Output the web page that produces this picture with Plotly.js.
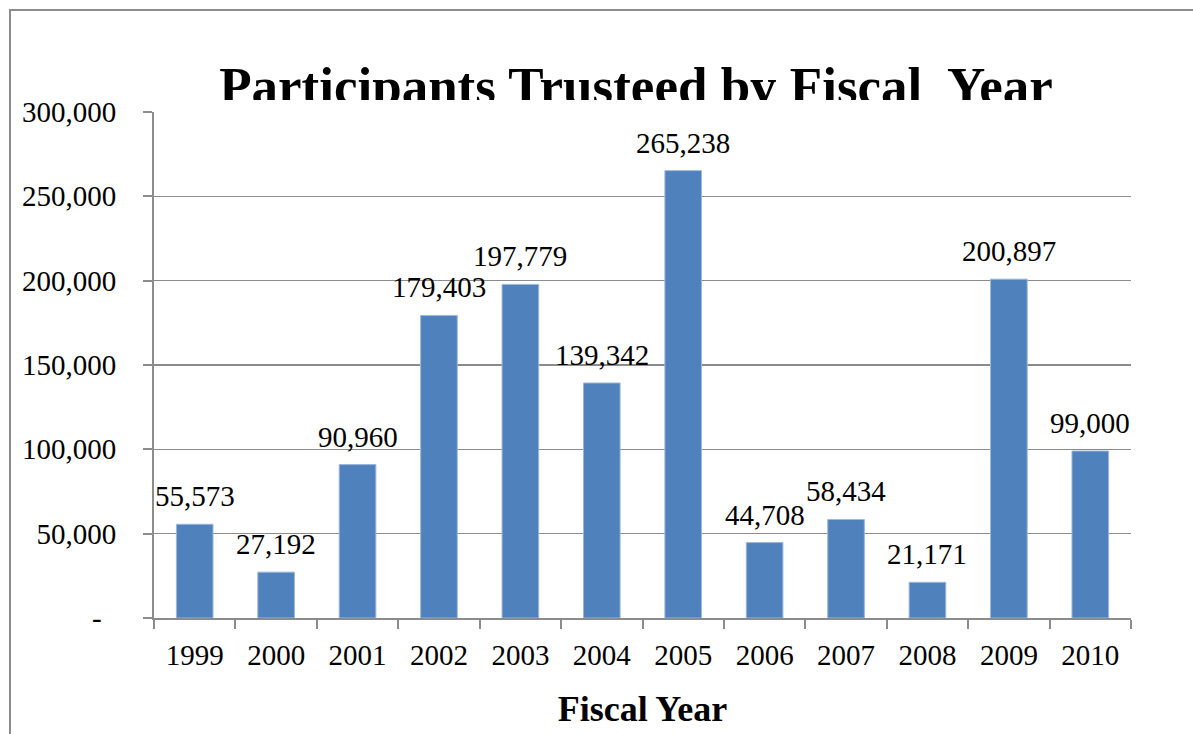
<!DOCTYPE html>
<html>
<head>
<meta charset="utf-8">
<script src="https://cdn.plot.ly/plotly-3.0.1.min.js"></script>
<style>
html,body{margin:0;padding:0;background:#fff;}
#chart{width:1193px;height:734px;}
</style>
</head>
<body>
<div id="chart"></div>
<script>
const years = ['1999','2000','2001','2002','2003','2004','2005','2006','2007','2008','2009','2010'];
const participants = [55573, 27192, 90960, 179403, 197779, 139342, 265238, 44708, 58434, 21171, 200897, 99000];
const yTickVals = [0, 50000, 100000, 150000, 200000, 250000, 300000];
const yTickText = ['-\u00A0\u00A0', '50,000', '100,000', '150,000', '200,000', '250,000', '300,000'];
const chartTitle = 'Participants Trusteed by Fiscal\u00A0 Year';
const xTitle = 'Fiscal Year';

const FONT = '"Liberation Serif", "Times New Roman", serif';
const GRID = '#8c8c8c';

const W = 1193, H = 734;
const L = 154, R = 1131, T = 112, B = 618;
const pw = R - L, ph = B - T;
const px = v => (v - L) / pw;
const py = v => (B - v) / ph;

const fmt = n => n.toLocaleString('en-US');

const trace = {
  type: 'bar',
  x: years,
  y: participants,
  marker: {color: '#4F81BD', line: {color: '#9DB7DA', width: 1}},
  hoverinfo: 'x+y'
};

const annotations = years.map((yr, i) => ({
  x: i, y: participants[i], xref: 'x', yref: 'y',
  text: fmt(participants[i]), showarrow: false,
  yanchor: 'bottom', xanchor: 'center', yshift: 10,
  font: {family: FONT, size: 29, color: '#000'}
}));

const layout = {
  width: W, height: H,
  margin: {l: L, r: W - R, t: T, b: H - B, pad: 0},
  paper_bgcolor: '#fff', plot_bgcolor: '#fff',
  bargap: 0.55,
  showlegend: false,
  title: {
    text: '<b>' + chartTitle + '</b>',
    font: {family: FONT, size: 53, color: '#000'},
    xref: 'paper', x: px(636), xanchor: 'center',
    yref: 'container', y: 1 - 104 / H, yanchor: 'bottom'
  },
  xaxis: {
    type: 'category',
    categoryorder: 'array', categoryarray: years,
    range: [-0.5, years.length - 0.5], autorange: false,
    tickson: 'boundaries', tickangle: 0,
    ticks: 'outside', ticklen: 9, tickwidth: 2, tickcolor: GRID,
    showline: true, linecolor: GRID, linewidth: 2,
    showgrid: false, zeroline: false,
    tickfont: {family: FONT, size: 29, color: '#000'},
    ticklabelstandoff: 10,
    title: {text: '<b>' + xTitle + '</b>', font: {family: FONT, size: 36, color: '#000'}, standoff: 26}
  },
  yaxis: {
    range: [0, 300000], autorange: false,
    tickvals: yTickVals, ticktext: yTickText,
    ticks: 'outside', ticklen: 9, tickwidth: 2, tickcolor: GRID,
    showline: true, linecolor: GRID, linewidth: 2,
    showgrid: true, gridcolor: GRID, gridwidth: 1.5,
    zeroline: false,
    tickfont: {family: FONT, size: 29, color: '#000'},
    ticklabelstandoff: 21
  },
  annotations: annotations,
  shapes: [{
    type: 'rect', xref: 'paper', yref: 'paper',
    x0: px(10), x1: px(1210), y0: py(760), y1: py(10),
    line: {color: '#8c8c8c', width: 2}, layer: 'below'
  }]
};

Plotly.newPlot('chart', [trace], layout, {displayModeBar: false, staticPlot: true}).then(gd => {
  const svgs = gd.querySelectorAll('svg.main-svg');
  const top = svgs[svgs.length - 1];
  const ns = 'http://www.w3.org/2000/svg';
  let defs = top.querySelector('defs');
  if (!defs) { defs = document.createElementNS(ns, 'defs'); top.insertBefore(defs, top.firstChild); }
  const cp = document.createElementNS(ns, 'clipPath');
  cp.setAttribute('id', 'titleclip');
  const r = document.createElementNS(ns, 'rect');
  r.setAttribute('x', 0); r.setAttribute('y', 0);
  r.setAttribute('width', W); r.setAttribute('height', 100);
  cp.appendChild(r); defs.appendChild(cp);
  const t = gd.querySelector('.g-gtitle');
  if (t) t.setAttribute('clip-path', 'url(#titleclip)');
});
</script>
</body>
</html>
